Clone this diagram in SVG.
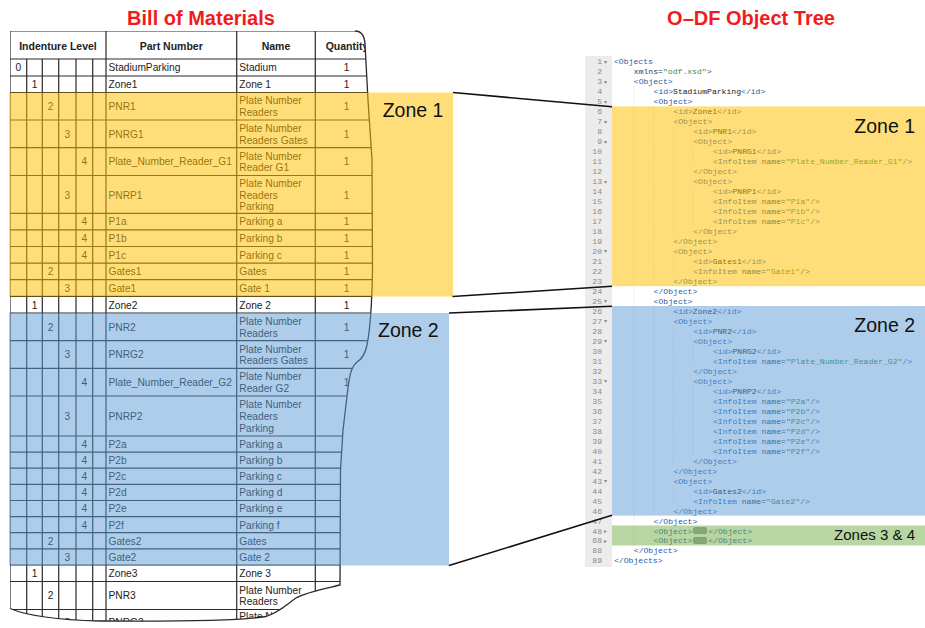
<svg xmlns="http://www.w3.org/2000/svg" width="925" height="628" viewBox="0 0 925 628">
<style>
.ttl{font-family:"Liberation Sans",Arial,sans-serif;font-weight:bold;font-size:20px;fill:#F21B1B;text-anchor:middle}
.hd{font-family:"Liberation Sans",Arial,sans-serif;font-weight:bold;font-size:10.5px;fill:#222;text-anchor:middle}
.c{font-family:"Liberation Sans",Arial,sans-serif;font-size:10.2px;fill:#222}
.m{text-anchor:middle}
.grid line{stroke:#2a2a2a;stroke-width:1.2}
.edge{fill:none;stroke:#2a2a2a;stroke-width:1.3}
.code{font-family:"Liberation Mono","DejaVu Sans Mono",monospace;font-size:8.1px}
.t{fill:#2559A8}.a{fill:#22386E}.s{fill:#2E8B3A}.x{fill:#222}
.ln{font-family:"Liberation Mono","DejaVu Sans Mono",monospace;font-size:8.1px;fill:#8a8a8a;text-anchor:end}
.fold{font-family:"DejaVu Sans",sans-serif;font-size:6px;fill:#8a8a8a}
.guide{stroke:#d4d4d4;stroke-width:0.8;stroke-dasharray:1 1.5}
.zl{font-family:"Liberation Sans",Arial,sans-serif;font-size:19.5px;fill:#111}
.zs{font-family:"Liberation Sans",Arial,sans-serif;font-size:15px;fill:#111}
.yel{fill:#FFC000;opacity:0.52}.blu{fill:#5B9BD5;opacity:0.5}.grn{fill:#70AD47;opacity:0.5}
.conn line{stroke:#111;stroke-width:1.6}
</style>
<defs>
<clipPath id="torn">
<path d="M10,31 L355,31 C361,31 364.5,36 365,44 L368,100 L372,160 L372.5,270 C372,300 370,330 367,345 C365,355 362,359 357,362 C352,366 350,372 348,388 L343,430 L340.5,470 L340,585 C328,588 306,592 296,598 C287,604 280,612 266,616.5 C240,621 170,621.5 100,621 C60,620 30,617 10,608.5 Z"/>
</clipPath>
</defs>
<rect width="925" height="628" fill="#fff"/>

<g id="titles">
<text class="ttl" x="201" y="25">Bill of Materials</text>
<text class="ttl" x="751" y="25">O–DF Object Tree</text>
</g>

<g id="bom-table">
<g clip-path="url(#torn)">
<g class="grid">
<line x1="10" y1="31" x2="380" y2="31"/><line x1="10" y1="59" x2="380" y2="59"/><line x1="10" y1="76" x2="380" y2="76"/><line x1="10" y1="92.5" x2="380" y2="92.5"/><line x1="10" y1="120" x2="380" y2="120"/><line x1="10" y1="147.7" x2="380" y2="147.7"/><line x1="10" y1="175.5" x2="380" y2="175.5"/><line x1="10" y1="213.3" x2="380" y2="213.3"/><line x1="10" y1="229.9" x2="380" y2="229.9"/><line x1="10" y1="246.5" x2="380" y2="246.5"/><line x1="10" y1="263.1" x2="380" y2="263.1"/><line x1="10" y1="279.7" x2="380" y2="279.7"/><line x1="10" y1="296.3" x2="380" y2="296.3"/><line x1="10" y1="313" x2="380" y2="313"/><line x1="10" y1="340.7" x2="380" y2="340.7"/><line x1="10" y1="368.3" x2="380" y2="368.3"/><line x1="10" y1="396" x2="380" y2="396"/><line x1="10" y1="436" x2="380" y2="436"/><line x1="10" y1="452.1" x2="380" y2="452.1"/><line x1="10" y1="468.2" x2="380" y2="468.2"/><line x1="10" y1="484.4" x2="380" y2="484.4"/><line x1="10" y1="500.5" x2="380" y2="500.5"/><line x1="10" y1="516.6" x2="380" y2="516.6"/><line x1="10" y1="532.7" x2="380" y2="532.7"/><line x1="10" y1="548.9" x2="380" y2="548.9"/><line x1="10" y1="565" x2="380" y2="565"/><line x1="10" y1="581.5" x2="380" y2="581.5"/><line x1="10" y1="609.5" x2="380" y2="609.5"/>
<line x1="10" y1="31" x2="10" y2="640"/><line x1="106" y1="31" x2="106" y2="640"/><line x1="236.7" y1="31" x2="236.7" y2="640"/><line x1="315.3" y1="31" x2="315.3" y2="640"/>
<line x1="26.7" y1="59" x2="26.7" y2="640"/><line x1="42.3" y1="59" x2="42.3" y2="640"/><line x1="58.7" y1="59" x2="58.7" y2="640"/><line x1="76" y1="59" x2="76" y2="640"/><line x1="92.7" y1="59" x2="92.7" y2="640"/>
</g>
<text class="hd" x="58" y="49.5">Indenture Level</text>
<text class="hd" x="171.3" y="49.5">Part Number</text>
<text class="hd" x="276" y="49.5">Name</text>
<text class="hd" x="347" y="49.5">Quantity</text>

<g class="c">
<text x="18.3" y="71.3" class="m">0</text><text x="108.5" y="71.3">StadiumParking</text><text x="239.3" y="71.3">Stadium</text><text x="346.7" y="71.3" class="m">1</text>
<text x="34.5" y="88" class="m">1</text><text x="108.5" y="88">Zone1</text><text x="239.3" y="88">Zone 1</text><text x="346.7" y="88" class="m">1</text>
<text x="50.5" y="110" class="m">2</text><text x="108.5" y="110">PNR1</text><text x="239.3" y="104.3">Plate Number</text><text x="239.3" y="115.9">Readers</text><text x="346.7" y="110" class="m">1</text>
<text x="67.3" y="137.6" class="m">3</text><text x="108.5" y="137.6">PNRG1</text><text x="239.3" y="131.9">Plate Number</text><text x="239.3" y="143.5">Readers Gates</text><text x="346.7" y="137.6" class="m">1</text>
<text x="84.3" y="165.4" class="m">4</text><text x="108.5" y="165.4">Plate_Number_Reader_G1</text><text x="239.3" y="159.7">Plate Number</text><text x="239.3" y="171.3">Reader G1</text><text x="346.7" y="165.4" class="m">1</text>
<text x="67.3" y="198.5" class="m">3</text><text x="108.5" y="198.5">PNRP1</text><text x="239.3" y="186.7">Plate Number</text><text x="239.3" y="198.5">Readers</text><text x="239.3" y="210.3">Parking</text><text x="346.7" y="198.5" class="m">1</text>
<text x="84.3" y="225.4" class="m">4</text><text x="108.5" y="225.4">P1a</text><text x="239.3" y="225.4">Parking a</text><text x="346.7" y="225.4" class="m">1</text>
<text x="84.3" y="242" class="m">4</text><text x="108.5" y="242">P1b</text><text x="239.3" y="242">Parking b</text><text x="346.7" y="242" class="m">1</text>
<text x="84.3" y="258.6" class="m">4</text><text x="108.5" y="258.6">P1c</text><text x="239.3" y="258.6">Parking c</text><text x="346.7" y="258.6" class="m">1</text>
<text x="50.5" y="275.2" class="m">2</text><text x="108.5" y="275.2">Gates1</text><text x="239.3" y="275.2">Gates</text><text x="346.7" y="275.2" class="m">1</text>
<text x="67.3" y="291.8" class="m">3</text><text x="108.5" y="291.8">Gate1</text><text x="239.3" y="291.8">Gate 1</text><text x="346.7" y="291.8" class="m">1</text>
<text x="34.5" y="308.5" class="m">1</text><text x="108.5" y="308.5">Zone2</text><text x="239.3" y="308.5">Zone 2</text><text x="346.7" y="308.5" class="m">1</text>
<text x="50.5" y="330.7" class="m">2</text><text x="108.5" y="330.7">PNR2</text><text x="239.3" y="325">Plate Number</text><text x="239.3" y="336.6">Readers</text><text x="346.7" y="330.7" class="m">1</text>
<text x="67.3" y="358.3" class="m">3</text><text x="108.5" y="358.3">PNRG2</text><text x="239.3" y="352.6">Plate Number</text><text x="239.3" y="364.2">Readers Gates</text><text x="346.7" y="358.3" class="m">1</text>
<text x="84.3" y="386" class="m">4</text><text x="108.5" y="386">Plate_Number_Reader_G2</text><text x="239.3" y="380.3">Plate Number</text><text x="239.3" y="391.9">Reader G2</text><text x="346.7" y="386" class="m">1</text>
<text x="67.3" y="419.8" class="m">3</text><text x="108.5" y="419.8">PNRP2</text><text x="239.3" y="408">Plate Number</text><text x="239.3" y="419.8">Readers</text><text x="239.3" y="431.6">Parking</text>
<text x="84.3" y="447.9" class="m">4</text><text x="108.5" y="447.9">P2a</text><text x="239.3" y="447.9">Parking a</text>
<text x="84.3" y="464" class="m">4</text><text x="108.5" y="464">P2b</text><text x="239.3" y="464">Parking b</text>
<text x="84.3" y="480.1" class="m">4</text><text x="108.5" y="480.1">P2c</text><text x="239.3" y="480.1">Parking c</text>
<text x="84.3" y="496.3" class="m">4</text><text x="108.5" y="496.3">P2d</text><text x="239.3" y="496.3">Parking d</text>
<text x="84.3" y="512.4" class="m">4</text><text x="108.5" y="512.4">P2e</text><text x="239.3" y="512.4">Parking e</text>
<text x="84.3" y="528.5" class="m">4</text><text x="108.5" y="528.5">P2f</text><text x="239.3" y="528.5">Parking f</text>
<text x="50.5" y="544.6" class="m">2</text><text x="108.5" y="544.6">Gates2</text><text x="239.3" y="544.6">Gates</text>
<text x="67.3" y="560.8" class="m">3</text><text x="108.5" y="560.8">Gate2</text><text x="239.3" y="560.8">Gate 2</text>
<text x="34.5" y="577.1" class="m">1</text><text x="108.5" y="577.1">Zone3</text><text x="239.3" y="577.1">Zone 3</text>
<text x="50.5" y="599.3" class="m">2</text><text x="108.5" y="599.3">PNR3</text><text x="239.3" y="593.6">Plate Number</text><text x="239.3" y="605.2">Readers</text>
<text x="67.3" y="626" class="m">3</text><text x="108.5" y="626">PNRG3</text><text x="239.3" y="620.3">Plate Number</text>
</g>
</g>
<path class="edge" d="M355,31 C361,31 364.5,36 365,44 L368,100 L372,160 L372.5,270 C372,300 370,330 367,345 C365,355 362,359 357,362 C352,366 350,372 348,388 L343,430 L340.5,470 L340,585 C328,588 306,592 296,598 C287,604 280,612 266,616.5 C240,621 170,621.5 100,621 C60,620 30,617 10,608.5"/>
</g>

<g id="zone1-left">
<rect class="yel" x="9" y="92.5" width="444" height="204"/>
<text class="zl" x="382.7" y="117.3">Zone 1</text>
</g>
<g id="zone2-left">
<rect class="blu" x="9" y="313" width="440" height="252.5"/>
<text class="zl" x="378" y="336.7">Zone 2</text>
</g>

<g id="code-tree">
<rect x="585" y="56" width="27" height="511" fill="#ececec"/>
<g>
<line class="guide" x1="633.8" y1="86.4" x2="633.8" y2="545.5"/>
<line class="guide" x1="653.6" y1="106.4" x2="653.6" y2="286"/><line class="guide" x1="653.6" y1="306" x2="653.6" y2="515.6"/>
<line class="guide" x1="673.4" y1="126.4" x2="673.4" y2="236.2"/><line class="guide" x1="673.4" y1="256.1" x2="673.4" y2="276.1"/><line class="guide" x1="673.4" y1="326" x2="673.4" y2="465.7"/><line class="guide" x1="673.4" y1="485.6" x2="673.4" y2="505.6"/>
<line class="guide" x1="693.2" y1="146.3" x2="693.2" y2="166.3"/><line class="guide" x1="693.2" y1="186.2" x2="693.2" y2="226.2"/><line class="guide" x1="693.2" y1="345.9" x2="693.2" y2="365.9"/><line class="guide" x1="693.2" y1="385.8" x2="693.2" y2="455.7"/>
</g>
<g>
<text class="ln" x="602" y="64.4">1</text><text class="ln" x="602" y="74.4">2</text><text class="ln" x="602" y="84.4">3</text><text class="ln" x="602" y="94.3">4</text><text class="ln" x="602" y="104.3">5</text><text class="ln" x="602" y="114.3">6</text><text class="ln" x="602" y="124.3">7</text><text class="ln" x="602" y="134.3">8</text><text class="ln" x="602" y="144.2">9</text><text class="ln" x="602" y="154.2">10</text>
<text class="ln" x="602" y="164.2">11</text><text class="ln" x="602" y="174.2">12</text><text class="ln" x="602" y="184.2">13</text><text class="ln" x="602" y="194.1">14</text><text class="ln" x="602" y="204.1">15</text><text class="ln" x="602" y="214.1">16</text><text class="ln" x="602" y="224.1">17</text><text class="ln" x="602" y="234.1">18</text><text class="ln" x="602" y="244">19</text><text class="ln" x="602" y="254">20</text>
<text class="ln" x="602" y="264">21</text><text class="ln" x="602" y="274">22</text><text class="ln" x="602" y="284">23</text><text class="ln" x="602" y="293.9">24</text><text class="ln" x="602" y="303.9">25</text><text class="ln" x="602" y="313.9">26</text><text class="ln" x="602" y="323.9">27</text><text class="ln" x="602" y="333.9">28</text><text class="ln" x="602" y="343.8">29</text><text class="ln" x="602" y="353.8">30</text>
<text class="ln" x="602" y="363.8">31</text><text class="ln" x="602" y="373.8">32</text><text class="ln" x="602" y="383.8">33</text><text class="ln" x="602" y="393.7">34</text><text class="ln" x="602" y="403.7">35</text><text class="ln" x="602" y="413.7">36</text><text class="ln" x="602" y="423.7">37</text><text class="ln" x="602" y="433.7">38</text><text class="ln" x="602" y="443.6">39</text><text class="ln" x="602" y="453.6">40</text>
<text class="ln" x="602" y="463.6">41</text><text class="ln" x="602" y="473.6">42</text><text class="ln" x="602" y="483.6">43</text><text class="ln" x="602" y="493.5">44</text><text class="ln" x="602" y="503.5">45</text><text class="ln" x="602" y="513.5">46</text><text class="ln" x="602" y="523.5">47</text><text class="ln" x="602" y="533.5">48</text><text class="ln" x="602" y="543.4">68</text><text class="ln" x="602" y="553.4">88</text><text class="ln" x="602" y="563.4">89</text>
<text class="fold" x="604" y="63.8">▾</text><text class="fold" x="604" y="83.8">▾</text><text class="fold" x="604" y="103.7">▾</text><text class="fold" x="604" y="123.7">▾</text><text class="fold" x="604" y="143.6">▾</text><text class="fold" x="604" y="183.6">▾</text><text class="fold" x="604" y="253.4">▾</text><text class="fold" x="604" y="303.3">▾</text><text class="fold" x="604" y="323.3">▾</text><text class="fold" x="604" y="343.2">▾</text><text class="fold" x="604" y="383.2">▾</text><text class="fold" x="604" y="483">▾</text>
<text class="fold" x="604" y="532.9">▸</text><text class="fold" x="604" y="542.8">▸</text>
</g>
<g class="code">
<text x="614" y="64.4"><tspan class="t">&lt;Objects</tspan></text>
<text x="633.8" y="74.4"><tspan class="a">xmlns=</tspan><tspan class="s">"odf.xsd"</tspan><tspan class="t">&gt;</tspan></text>
<text x="633.8" y="84.4" class="t">&lt;Object&gt;</text>
<text x="653.6" y="94.3"><tspan class="t">&lt;id&gt;</tspan><tspan class="x">StadiumParking</tspan><tspan class="t">&lt;/id&gt;</tspan></text>
<text x="653.6" y="104.3" class="t">&lt;Object&gt;</text>
<text x="673.4" y="114.3"><tspan class="t">&lt;id&gt;</tspan><tspan class="x">Zone1</tspan><tspan class="t">&lt;/id&gt;</tspan></text>
<text x="673.4" y="124.3" class="t">&lt;Object&gt;</text>
<text x="693.2" y="134.3"><tspan class="t">&lt;id&gt;</tspan><tspan class="x">PNR1</tspan><tspan class="t">&lt;/id&gt;</tspan></text>
<text x="693.2" y="144.2" class="t">&lt;Object&gt;</text>
<text x="713" y="154.2"><tspan class="t">&lt;id&gt;</tspan><tspan class="x">PNRG1</tspan><tspan class="t">&lt;/id&gt;</tspan></text>
<text x="713" y="164.2"><tspan class="t">&lt;InfoItem</tspan> <tspan class="a">name=</tspan><tspan class="s">"Plate_Number_Reader_G1"</tspan><tspan class="t">/&gt;</tspan></text>
<text x="693.2" y="174.2" class="t">&lt;/Object&gt;</text>
<text x="693.2" y="184.2" class="t">&lt;Object&gt;</text>
<text x="713" y="194.1"><tspan class="t">&lt;id&gt;</tspan><tspan class="x">PNRP1</tspan><tspan class="t">&lt;/id&gt;</tspan></text>
<text x="713" y="204.1"><tspan class="t">&lt;InfoItem</tspan> <tspan class="a">name=</tspan><tspan class="s">"P1a"</tspan><tspan class="t">/&gt;</tspan></text>
<text x="713" y="214.1"><tspan class="t">&lt;InfoItem</tspan> <tspan class="a">name=</tspan><tspan class="s">"P1b"</tspan><tspan class="t">/&gt;</tspan></text>
<text x="713" y="224.1"><tspan class="t">&lt;InfoItem</tspan> <tspan class="a">name=</tspan><tspan class="s">"P1c"</tspan><tspan class="t">/&gt;</tspan></text>
<text x="693.2" y="234.1" class="t">&lt;/Object&gt;</text>
<text x="673.4" y="244" class="t">&lt;/Object&gt;</text>
<text x="673.4" y="254" class="t">&lt;Object&gt;</text>
<text x="693.2" y="264"><tspan class="t">&lt;id&gt;</tspan><tspan class="x">Gates1</tspan><tspan class="t">&lt;/id&gt;</tspan></text>
<text x="693.2" y="274"><tspan class="t">&lt;InfoItem</tspan> <tspan class="a">name=</tspan><tspan class="s">"Gate1"</tspan><tspan class="t">/&gt;</tspan></text>
<text x="673.4" y="284" class="t">&lt;/Object&gt;</text>
<text x="653.6" y="293.9" class="t">&lt;/Object&gt;</text>
<text x="653.6" y="303.9" class="t">&lt;Object&gt;</text>
<text x="673.4" y="313.9"><tspan class="t">&lt;id&gt;</tspan><tspan class="x">Zone2</tspan><tspan class="t">&lt;/id&gt;</tspan></text>
<text x="673.4" y="323.9" class="t">&lt;Object&gt;</text>
<text x="693.2" y="333.9"><tspan class="t">&lt;id&gt;</tspan><tspan class="x">PNR2</tspan><tspan class="t">&lt;/id&gt;</tspan></text>
<text x="693.2" y="343.8" class="t">&lt;Object&gt;</text>
<text x="713" y="353.8"><tspan class="t">&lt;id&gt;</tspan><tspan class="x">PNRG2</tspan><tspan class="t">&lt;/id&gt;</tspan></text>
<text x="713" y="363.8"><tspan class="t">&lt;InfoItem</tspan> <tspan class="a">name=</tspan><tspan class="s">"Plate_Number_Reader_G2"</tspan><tspan class="t">/&gt;</tspan></text>
<text x="693.2" y="373.8" class="t">&lt;/Object&gt;</text>
<text x="693.2" y="383.8" class="t">&lt;Object&gt;</text>
<text x="713" y="393.7"><tspan class="t">&lt;id&gt;</tspan><tspan class="x">PNRP2</tspan><tspan class="t">&lt;/id&gt;</tspan></text>
<text x="713" y="403.7"><tspan class="t">&lt;InfoItem</tspan> <tspan class="a">name=</tspan><tspan class="s">"P2a"</tspan><tspan class="t">/&gt;</tspan></text>
<text x="713" y="413.7"><tspan class="t">&lt;InfoItem</tspan> <tspan class="a">name=</tspan><tspan class="s">"P2b"</tspan><tspan class="t">/&gt;</tspan></text>
<text x="713" y="423.7"><tspan class="t">&lt;InfoItem</tspan> <tspan class="a">name=</tspan><tspan class="s">"P2c"</tspan><tspan class="t">/&gt;</tspan></text>
<text x="713" y="433.7"><tspan class="t">&lt;InfoItem</tspan> <tspan class="a">name=</tspan><tspan class="s">"P2d"</tspan><tspan class="t">/&gt;</tspan></text>
<text x="713" y="443.6"><tspan class="t">&lt;InfoItem</tspan> <tspan class="a">name=</tspan><tspan class="s">"P2e"</tspan><tspan class="t">/&gt;</tspan></text>
<text x="713" y="453.6"><tspan class="t">&lt;InfoItem</tspan> <tspan class="a">name=</tspan><tspan class="s">"P2f"</tspan><tspan class="t">/&gt;</tspan></text>
<text x="693.2" y="463.6" class="t">&lt;/Object&gt;</text>
<text x="673.4" y="473.6" class="t">&lt;/Object&gt;</text>
<text x="673.4" y="483.6" class="t">&lt;Object&gt;</text>
<text x="693.2" y="493.5"><tspan class="t">&lt;id&gt;</tspan><tspan class="x">Gates2</tspan><tspan class="t">&lt;/id&gt;</tspan></text>
<text x="693.2" y="503.5"><tspan class="t">&lt;InfoItem</tspan> <tspan class="a">name=</tspan><tspan class="s">"Gate2"</tspan><tspan class="t">/&gt;</tspan></text>
<text x="673.4" y="513.5" class="t">&lt;/Object&gt;</text>
<text x="653.6" y="523.5" class="t">&lt;/Object&gt;</text>
<text x="653.6" y="533.5" class="t">&lt;Object&gt;</text>
<rect x="693.5" y="527.6" width="13" height="6" rx="1" fill="#9aa0a0" stroke="#6f7575" stroke-width="0.6"/>
<text x="708.3" y="533.5" class="t">&lt;/Object&gt;</text>
<text x="653.6" y="543.4" class="t">&lt;Object&gt;</text>
<rect x="693.5" y="537.5" width="13" height="6" rx="1" fill="#9aa0a0" stroke="#6f7575" stroke-width="0.6"/>
<text x="708.3" y="543.4" class="t">&lt;/Object&gt;</text>
<text x="633.8" y="553.4" class="t">&lt;/Object&gt;</text>
<text x="614" y="563.4" class="t">&lt;/Objects&gt;</text>
</g>
</g>

<g id="zone1-right">
<rect class="yel" x="612" y="106.4" width="313" height="179.8"/>
<text class="zl" x="915" y="133.3" text-anchor="end">Zone 1</text>
</g>
<g id="zone2-right">
<rect class="blu" x="612" y="306" width="313" height="209.6"/>
<text class="zl" x="915" y="331.7" text-anchor="end">Zone 2</text>
</g>
<g id="zones34-right">
<rect class="grn" x="612" y="525.5" width="313" height="20"/>
<text class="zs" x="915" y="540" text-anchor="end">Zones 3 &amp; 4</text>
</g>

<g id="connectors" class="conn">
<line x1="453" y1="92.5" x2="612" y2="106.8"/>
<line x1="452.5" y1="296.5" x2="612" y2="286.3"/>
<line x1="449" y1="313" x2="612" y2="306.3"/>
<line x1="449" y1="565.5" x2="612" y2="515.3"/>
</g>
</svg>
